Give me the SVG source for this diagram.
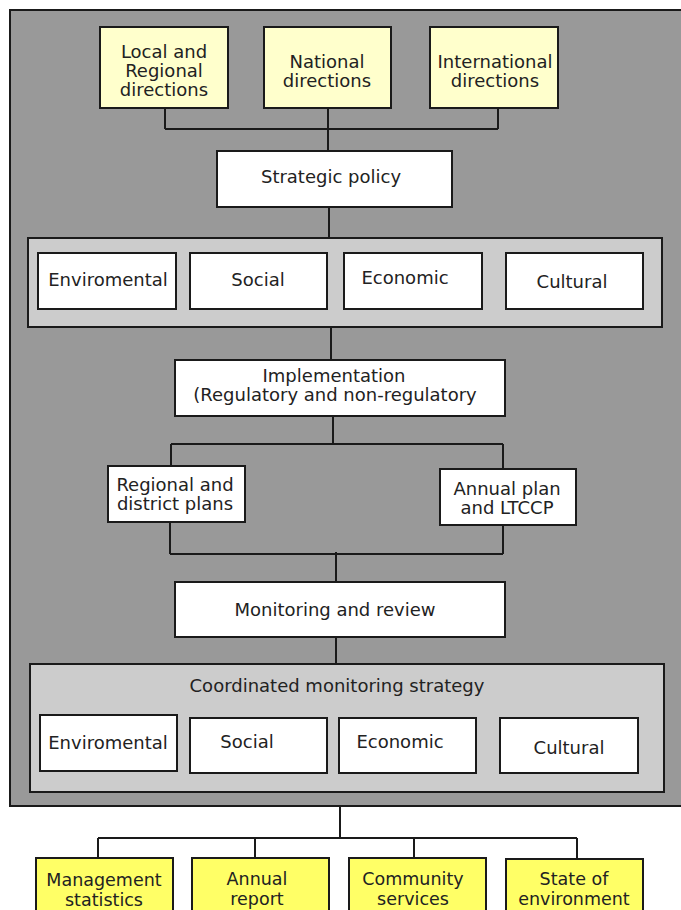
<svg xmlns="http://www.w3.org/2000/svg" width="681" height="910" viewBox="0 0 681 910">
<style>
text{font-family:"DejaVu Sans","Liberation Sans",sans-serif;font-size:18px;fill:#222;text-anchor:middle}
.sm{font-size:17.5px}
.box{fill:#fff;stroke:#1a1a1a;stroke-width:2}
.ylw{fill:#ffffcc;stroke:#1a1a1a;stroke-width:2}
.yb{fill:#ffff66;stroke:#1a1a1a;stroke-width:2}
.panel{fill:#cccccc;stroke:#1a1a1a;stroke-width:2}
.ln{fill:none;stroke:#1a1a1a;stroke-width:2}
</style>
<rect x="10" y="10" width="680" height="796" fill="#999999" stroke="#1a1a1a" stroke-width="2"/>
<g id="connectors">
<path class="ln" d="M165 108V129M328 108V151M498 108V129M165 129H498"/>
<path class="ln" d="M329 207V238"/>
<path class="ln" d="M331 327V360"/>
<path class="ln" d="M333 416V444M171 444H503M171 444V466M503 444V469"/>
<path class="ln" d="M170 522V554M503 525V554M170 554H503M336 552V582"/>
<path class="ln" d="M336 637V664"/>
<path class="ln" d="M340 806V838M98 838H577M98 838V858M255 838V858M414 838V858M577 838V859"/>
</g>
<g id="local"><rect class="ylw" x="100" y="27" width="128" height="81"/><text x="164" y="58">Local and</text><text x="164" y="77">Regional</text><text x="164" y="96">directions</text></g>
<g id="national"><rect class="ylw" x="264" y="27" width="127" height="81"/><text x="327" y="68">National</text><text x="327" y="87">directions</text></g>
<g id="international"><rect class="ylw" x="430" y="27" width="128" height="81"/><text x="495" y="68">International</text><text x="495" y="87">directions</text></g>
<g id="strategic"><rect class="box" x="217" y="151" width="235" height="56"/><text x="331" y="183">Strategic policy</text></g>
<g id="pillars1">
<rect class="panel" x="28" y="238" width="634" height="89"/>
<rect class="box" x="38" y="253" width="138" height="56"/><text x="108" y="286">Enviromental</text>
<rect class="box" x="190" y="253" width="137" height="56"/><text x="258" y="286">Social</text>
<rect class="box" x="344" y="253" width="138" height="56"/><text x="405" y="284">Economic</text>
<rect class="box" x="506" y="253" width="137" height="56"/><text x="572" y="288">Cultural</text>
</g>
<g id="implementation"><rect class="box" x="175" y="360" width="330" height="56"/><text x="334" y="382">Implementation</text><text x="335" y="401">(Regulatory and non-regulatory</text></g>
<g id="regional"><rect class="box" x="108" y="466" width="137" height="56"/><text x="175" y="491">Regional and</text><text x="175" y="510">district plans</text></g>
<g id="annual"><rect class="box" x="440" y="469" width="136" height="56"/><text x="507" y="495">Annual plan</text><text x="507" y="514">and LTCCP</text></g>
<g id="monitoring"><rect class="box" x="175" y="582" width="330" height="55"/><text x="335" y="616">Monitoring and review</text></g>
<g id="coordinated">
<rect class="panel" x="30" y="664" width="634" height="128"/>
<text x="337" y="692">Coordinated monitoring strategy</text>
<rect class="box" x="40" y="715" width="137" height="56"/><text x="108" y="749">Enviromental</text>
<rect class="box" x="190" y="718" width="137" height="55"/><text x="247" y="748">Social</text>
<rect class="box" x="339" y="718" width="137" height="55"/><text x="400" y="748">Economic</text>
<rect class="box" x="500" y="718" width="138" height="55"/><text x="569" y="754">Cultural</text>
</g>
<g id="management"><rect class="yb" x="36" y="858" width="137" height="60"/><text class="sm" x="104" y="886">Management</text><text class="sm" x="104" y="906">statistics</text></g>
<g id="annualreport"><rect class="yb" x="192" y="858" width="137" height="60"/><text class="sm" x="257" y="885">Annual</text><text class="sm" x="257" y="905">report</text></g>
<g id="community"><rect class="yb" x="349" y="858" width="137" height="60"/><text class="sm" x="413" y="885">Community</text><text class="sm" x="413" y="905">services</text></g>
<g id="stateenv"><rect class="yb" x="506" y="859" width="137" height="60"/><text class="sm" x="574" y="885">State of</text><text class="sm" x="574" y="905">environment</text></g>
</svg>
